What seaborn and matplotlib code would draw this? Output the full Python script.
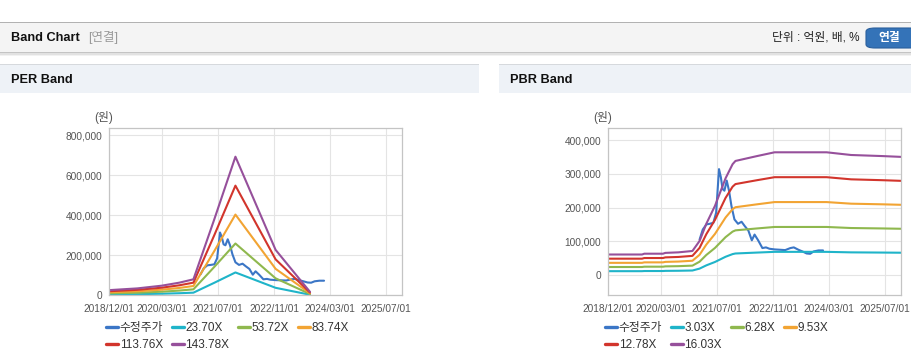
import numpy as np
import pandas as pd
import matplotlib
matplotlib.use('Agg')
import matplotlib.pyplot as plt
import matplotlib.dates as mdates
from matplotlib.patches import Rectangle, FancyBboxPatch
from matplotlib.lines import Line2D
from matplotlib.ticker import FuncFormatter
import seaborn as sns

sns.set_style('whitegrid')
plt.rcParams['font.family'] = ['Liberation Sans', 'Noto Sans CJK KR']

# adjusted share price (수정주가)
price_dates = ['2021-02-01', '2021-03-01', '2021-04-01', '2021-05-01', '2021-06-01', '2021-06-25',
               '2021-07-20', '2021-08-05', '2021-08-20', '2021-09-05', '2021-09-25', '2021-10-15',
               '2021-11-05', '2021-12-01', '2022-01-01', '2022-02-01', '2022-03-01', '2022-04-01',
               '2022-05-01', '2022-05-25', '2022-06-25', '2022-08-01', '2022-09-01', '2022-10-01',
               '2022-11-15', '2023-01-01', '2023-02-15', '2023-04-01', '2023-05-01', '2023-06-10',
               '2023-07-15', '2023-08-20', '2023-09-20', '2023-10-20', '2023-12-01', '2024-01-10']
price_values = [105000, 135000, 150000, 152000, 155000, 185000,
                314000, 290000, 255000, 250000, 280000, 250000,
                205000, 165000, 152000, 158000, 145000, 132000,
                103000, 120000, 103000, 80000, 82000, 78000,
                76000, 75000, 74000, 80000, 82000, 75000,
                70000, 64000, 63000, 70000, 73000, 73000]

# EPS basis for PER band
eps_dates = ['2018-12-01', '2019-08-01', '2020-03-01', '2020-08-01', '2020-12-01',
             '2021-06-01', '2021-12-01', '2022-11-15', '2023-09-10']
eps_values = [180, 240, 335, 440, 556, 2650, 4820, 1580, 120]
per_multiples = [23.70, 53.72, 83.74, 113.76, 143.78]
per_labels = ['23.70X', '53.72X', '83.74X', '113.76X', '143.78X']

# BPS basis for PBR band
bps_dates = ['2018-12-01', '2019-09-20', '2019-10-10', '2020-03-20', '2020-04-10', '2020-08-01',
             '2020-12-01', '2021-02-01', '2021-04-01', '2021-06-15', '2021-09-15', '2021-11-15',
             '2021-12-10', '2022-02-10', '2022-06-15', '2022-11-15', '2024-02-10', '2024-09-10',
             '2025-06-10', '2025-11-20']
bps_values = [3800, 3800, 3950, 3950, 4100, 4200,
              4450, 6300, 9500, 12800, 17900, 20500,
              21100, 21400, 22000, 22700, 22700, 22200,
              22000, 21850]
pbr_multiples = [3.03, 6.28, 9.53, 12.78, 16.03]
pbr_labels = ['3.03X', '6.28X', '9.53X', '12.78X', '16.03X']

tick_dates = ['2018-12-01', '2020-03-01', '2021-07-01', '2022-11-01', '2024-03-01', '2025-07-01']

price_color = '#3b76c6'
band_colors = ['#1fb4c9', '#8fb84e', '#f2a433', '#d2352c', '#96509b']

W, H = 912, 364
fig = plt.figure(figsize=(W / 100, H / 100), dpi=100)
fig.patch.set_facecolor('white')


def fx(px):
    return px / W


def fy(py):
    return 1 - py / H


def box(x0, y0, x1, y1, color, **kw):
    fig.patches.append(Rectangle((fx(x0), fy(y1)), fx(x1 - x0), (y1 - y0) / H,
                                 transform=fig.transFigure, facecolor=color,
                                 edgecolor='none', **kw))


# page header
box(0, 21.5, W, 23, '#b2b2b2')
box(0, 23, W, 52, '#f4f4f4')
box(0, 52, W, 53, '#c4c4c4')
box(0, 53, W, 54.5, '#e2e2e2')
box(0, 54.5, W, 56, '#f2f2f2')
fig.text(fx(11), fy(38), 'Band Chart', fontsize=9.2, fontweight='bold', color='#111111', va='center')
fig.text(fx(88), fy(38), '[연결]', fontsize=9, color='#9a9a9a', va='center')
fig.text(fx(860), fy(38), '단위 : 억원, 배, %', fontsize=8.5, color='#222222', va='center', ha='right')
fig.patches.append(FancyBboxPatch((fx(866), fy(48)), fx(52), 20 / H,
                                  boxstyle='round,pad=0,rounding_size=0.01',
                                  transform=fig.transFigure, facecolor='#3473b8',
                                  edgecolor='#2a5f9c', linewidth=0.8))
fig.text(fx(889), fy(38), '연결', fontsize=8.5, fontweight='bold', color='white', va='center', ha='center')

# panel headers
for x0, x1, title in [(0, 479, 'PER Band'), (499, W, 'PBR Band')]:
    box(x0, 63.5, x1, 65, '#d6d9dd')
    box(x0, 65, x1, 93, '#eef2f7')
    fig.text(fx(x0 + 11), fy(80), title, fontsize=9.2, fontweight='bold', color='#111111', va='center')


def make_bands(dates, base, multiples, labels):
    rows = []
    for m, lab in zip(multiples, labels):
        for d, b in zip(dates, base):
            rows.append({'date': pd.Timestamp(d), 'value': b * m, 'band': lab})
    return pd.DataFrame(rows)


def draw_panel(left_px, bands, labels, ylim, yticks, legend_x):
    ax = fig.add_axes([fx(left_px), fy(295.3), fx(293), 167 / H])
    ax.set_facecolor('white')
    sns.lineplot(x=pd.to_datetime(price_dates), y=price_values, color=price_color,
                 linewidth=1.5, ax=ax)
    sns.lineplot(data=bands, x='date', y='value', hue='band', hue_order=labels,
                 palette=dict(zip(labels, band_colors)), linewidth=1.5, ax=ax, legend=False)
    ax.set_xlim(pd.Timestamp('2018-12-01'), pd.Timestamp('2025-11-20'))
    ax.set_ylim(*ylim)
    ax.set_xticks(pd.to_datetime(tick_dates))
    ax.xaxis.set_major_formatter(mdates.DateFormatter('%Y/%m/%d'))
    ax.set_yticks(yticks)
    ax.yaxis.set_major_formatter(FuncFormatter(lambda v, p: f'{int(v):,}'))
    ax.set_xlabel('')
    ax.set_ylabel('')
    ax.tick_params(axis='both', length=0, labelsize=7.3, colors='#555555')
    ax.tick_params(axis='x', pad=6)
    ax.tick_params(axis='y', pad=5)
    ax.grid(True, color='#e4e4e4', linewidth=0.8)
    for s in ax.spines.values():
        s.set_color('#c4c4c4')
        s.set_linewidth(0.9)
    fig.text(fx(left_px + 4), fy(117), '(원)', fontsize=8.5, color='#555555', va='center', ha='right')

    names = ['수정주가'] + labels
    colors = [price_color] + band_colors
    handles = [Line2D([0], [0], color=c, linewidth=2.4) for c in colors]
    order = [0, 4, 1, 5, 2, 3]
    fig.legend([handles[i] for i in order], [names[i] for i in order],
               loc='upper left', bbox_to_anchor=(fx(legend_x), fy(322)),
               bbox_transform=fig.transFigure, ncol=4, frameon=False, fontsize=8.5,
               handlelength=1.0, handletextpad=0.15, columnspacing=0.75,
               labelspacing=0.4, borderaxespad=0, borderpad=0, labelcolor='#333333')
    return ax


per_df = make_bands(eps_dates, eps_values, per_multiples, per_labels)
pbr_df = make_bands(bps_dates, bps_values, pbr_multiples, pbr_labels)

draw_panel(109.3, per_df, per_labels, (0, 835000), [0, 200000, 400000, 600000, 800000], 106)
draw_panel(608.3, pbr_df, pbr_labels, (-60000, 435000), [0, 100000, 200000, 300000, 400000], 605)

fig.savefig('out.png', dpi=100, facecolor='white')
